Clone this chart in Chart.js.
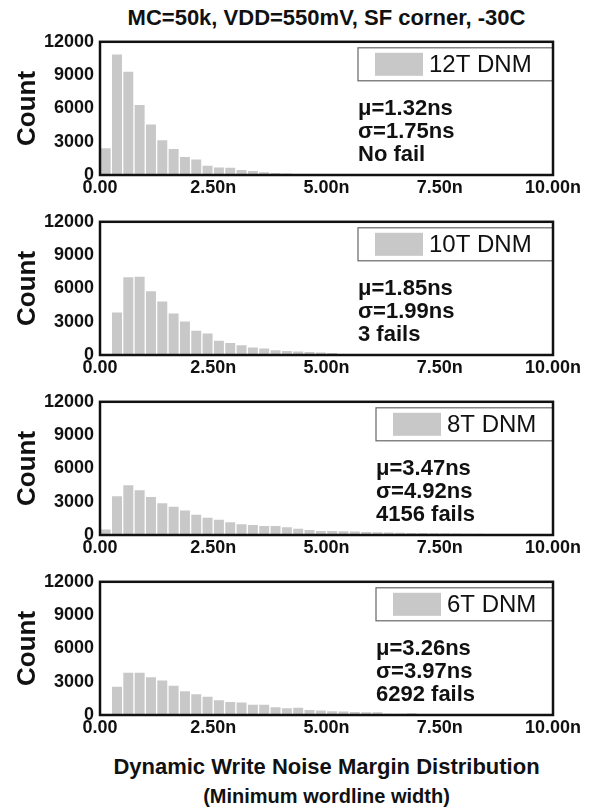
<!DOCTYPE html>
<html>
<head>
<meta charset="utf-8">
<script src="https://cdn.jsdelivr.net/npm/chart.js@4/dist/chart.umd.min.js"></script>
<style>
    body { margin: 0; background: #fff; }
    #wrap { position: relative; width: 590px; height: 808px; font-family: "Liberation Sans", Arial, sans-serif; color: #111; }
    .panel { position: absolute; left: 0; width: 590px; height: 176px; }
    .cap { position: absolute; left: 60px; width: 533px; text-align: center; font-weight: bold; white-space: nowrap; }
</style>
</head>
<body>
<div id="wrap">
    <div class="cap" style="top:5px; font-size:22px;">MC=50k, VDD=550mV, SF corner, -30C</div>
    <div class="panel" style="top:25px"><canvas id="chart12T" width="590" height="176"></canvas></div>
    <div class="panel" style="top:205px"><canvas id="chart10T" width="590" height="176"></canvas></div>
    <div class="panel" style="top:385px"><canvas id="chart8T" width="590" height="176"></canvas></div>
    <div class="panel" style="top:565px"><canvas id="chart6T" width="590" height="176"></canvas></div>
    <div class="cap" style="top:754px; font-size:22px;">Dynamic Write Noise Margin Distribution</div>
    <div class="cap" style="top:785px; font-size:20px;">(Minimum wordline width)</div>
</div>

<script>
// bin centres in ns (0.25ns wide bins from 0 to 10ns)
const binCenters = [
    0.125, 0.375, 0.625, 0.875, 1.125, 1.375, 1.625, 1.875, 2.125, 2.375,
    2.625, 2.875, 3.125, 3.375, 3.625, 3.875, 4.125, 4.375, 4.625, 4.875,
    5.125, 5.375, 5.625, 5.875, 6.125, 6.375, 6.625, 6.875, 7.125, 7.375,
    7.625, 7.875, 8.125, 8.375, 8.625, 8.875, 9.125, 9.375, 9.625, 9.875
];

const xTicks = [0, 2.5, 5, 7.5, 10];
const xTickLabels = ['0.00', '2.50n', '5.00n', '7.50n', '10.00n'];
const yTicks = [0, 3000, 6000, 9000, 12000];

const counts12T = [
    2400, 10850, 9300, 6300, 4550, 3120, 2350, 1620, 1390, 830,
    680, 650, 450, 350, 250, 190, 140, 70, 40, 20,
    0, 0, 0, 0, 0, 0, 0, 0, 0, 0,
    0, 0, 0, 0, 0, 0, 0, 0, 0, 0
];
const counts10T = [
    0, 3830, 7000, 7050, 5740, 4810, 3740, 3010, 2190, 1930,
    1280, 1070, 870, 680, 580, 420, 360, 320, 260, 230,
    170, 90, 40, 20, 0, 0, 0, 0, 0, 0,
    0, 0, 0, 0, 0, 0, 0, 0, 0, 0
];
const counts8T = [
    500, 3500, 4490, 4030, 3420, 2870, 2550, 2200, 1830, 1560,
    1380, 1150, 960, 900, 820, 810, 700, 560, 440, 360,
    350, 340, 310, 280, 250, 220, 200, 190, 170, 160,
    150, 140, 120, 110, 100, 90, 80, 70, 60, 50
];
const counts6T = [
    80, 2550, 3800, 3800, 3390, 3100, 2640, 2140, 1860, 1650,
    1330, 1160, 1130, 930, 930, 700, 610, 650, 440, 400,
    330, 320, 280, 250, 240, 120, 110, 160, 60, 50,
    40, 30, 30, 20, 20, 10, 10, 10, 10, 10
];

const seriesNames = ['12T DNM', '10T DNM', '8T DNM', '6T DNM'];
const meanLabels = ['μ=1.32ns', 'μ=1.85ns', 'μ=3.47ns', 'μ=3.26ns'];
const sigmaLabels = ['σ=1.75ns', 'σ=1.99ns', 'σ=4.92ns', 'σ=3.97ns'];
const failLabels = ['No fail', '3 fails', '4156 fails', '6292 fails'];

const BAR_COLOR = '#c8c8c8';
const FONT = '"Liberation Sans", Arial, sans-serif';

// frame around plot, legend box and the stats text
const panelDecor = {
    id: 'panelDecor',
    afterDatasetsDraw(chart, args, opts) {
        const { ctx, chartArea: a } = chart;
        ctx.save();

        // legend box
        const boxW = opts.wide ? 195 : 177;
        const boxL = a.right - boxW;
        const boxT = a.top + 6;
        const boxH = 33;
        ctx.fillStyle = '#fff';
        ctx.fillRect(boxL, boxT, boxW, boxH);
        ctx.strokeStyle = '#666';
        ctx.lineWidth = 1.2;
        ctx.strokeRect(boxL, boxT, boxW, boxH);
        ctx.fillStyle = BAR_COLOR;
        ctx.fillRect(boxL + 17, boxT + 5, 48, boxH - 10);
        ctx.fillStyle = '#111';
        ctx.font = '24px ' + FONT;
        ctx.textBaseline = 'middle';
        ctx.textAlign = 'left';
        ctx.fillText(opts.name, boxL + 71, boxT + boxH / 2 + 1);

        // stats
        ctx.font = 'bold 22px ' + FONT;
        const sx = boxL;
        ctx.fillText(opts.mean, sx, a.top + 67);
        ctx.fillText(opts.sigma, sx, a.top + 90);
        ctx.fillText(opts.fails, sx, a.top + 113);

        // plot frame
        ctx.strokeStyle = '#111';
        ctx.lineWidth = 2.5;
        ctx.strokeRect(a.left, a.top, a.right - a.left, a.bottom - a.top);
        ctx.restore();
    }
};

function makePanel(canvasId, counts, idx) {
    const ctx = document.getElementById(canvasId);
    const points = binCenters.map((x, i) => ({ x: x, y: counts[i] }));

    return new Chart(ctx, {
        type: 'bar',
        data: {
            datasets: [{
                label: seriesNames[idx],
                data: points,
                backgroundColor: BAR_COLOR,
                borderWidth: 0,
                barPercentage: 0.88,
                categoryPercentage: 1.0
            }]
        },
        options: {
            responsive: false,
            animation: false,
            layout: { padding: { top: 12, right: 37, left: 0, bottom: 0 } },
            plugins: {
                legend: { display: false },
                tooltip: { enabled: false },
                panelDecor: {
                    name: seriesNames[idx],
                    mean: meanLabels[idx],
                    sigma: sigmaLabels[idx],
                    fails: failLabels[idx],
                    wide: idx < 2
                }
            },
            scales: {
                x: {
                    type: 'linear',
                    min: 0,
                    max: 10,
                    offset: false,
                    grid: { display: false, drawTicks: false },
                    border: { display: false },
                    afterBuildTicks: (scale) => {
                        scale.ticks = xTicks.map(v => ({ value: v }));
                    },
                    ticks: {
                        color: '#111',
                        padding: 2,
                        maxRotation: 0,
                        font: { family: FONT, size: 18, weight: 'bold' },
                        callback: (value) => xTickLabels[xTicks.indexOf(value)]
                    },
                    afterFit: (scale) => { scale.height = 26; }
                },
                y: {
                    min: 0,
                    max: 12000,
                    grid: { display: false, drawTicks: false },
                    border: { display: false },
                    afterBuildTicks: (scale) => {
                        scale.ticks = yTicks.map(v => ({ value: v }));
                    },
                    ticks: {
                        color: '#111',
                        padding: 6,
                        font: { family: FONT, size: 18, weight: 'bold' },
                        callback: (value) => String(value)
                    },
                    title: {
                        display: true,
                        text: 'Count',
                        color: '#111',
                        padding: { top: 12, bottom: 0 },
                        font: { family: FONT, size: 26, weight: 'bold' }
                    },
                    afterFit: (scale) => { scale.width = 100; }
                }
            }
        },
        plugins: [panelDecor]
    });
}

makePanel('chart12T', counts12T, 0);
makePanel('chart10T', counts10T, 1);
makePanel('chart8T', counts8T, 2);
makePanel('chart6T', counts6T, 3);
</script>
</body>
</html>
